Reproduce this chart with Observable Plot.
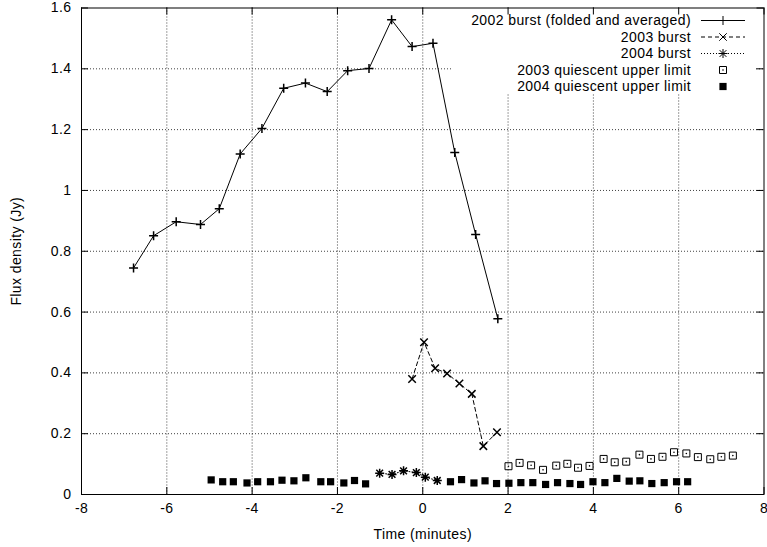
<!DOCTYPE html>
<html>
<head>
<meta charset="utf-8">
<script src="https://cdn.jsdelivr.net/npm/d3@7"></script>
<script src="https://cdn.jsdelivr.net/npm/@observablehq/plot@0.6"></script>
<style>
  html, body { margin: 0; padding: 0; background: white; }
  svg { display: block; }
  svg text { letter-spacing: 0.4px; }
</style>
</head>
<body>
<div id="chart"></div>
<script>
// ---- Data ----
const xTicks = [-8, -6, -4, -2, 0, 2, 4, 6, 8];
const yTicks = [0, 0.2, 0.4, 0.6, 0.8, 1, 1.2, 1.4, 1.6];

const seriesNames = [
  "2002 burst (folded and averaged)",
  "2003 burst",
  "2004 burst",
  "2003 quiescent upper limit",
  "2004 quiescent upper limit"
];

const t2002 = [-6.78, -6.31, -5.78, -5.21, -4.77, -4.28, -3.77, -3.26, -2.75, -2.24, -1.76, -1.26, -0.73, -0.25, 0.24, 0.75, 1.24, 1.76];
const f2002 = [0.745, 0.851, 0.897, 0.888, 0.940, 1.120, 1.204, 1.336, 1.353, 1.325, 1.394, 1.401, 1.561, 1.473, 1.484, 1.125, 0.855, 0.578];

const t2003 = [-0.25, 0.03, 0.29, 0.57, 0.86, 1.15, 1.42, 1.74];
const f2003 = [0.380, 0.501, 0.415, 0.398, 0.365, 0.331, 0.159, 0.205];

const t2004 = [-1.01, -0.72, -0.45, -0.15, 0.06, 0.34];
const f2004 = [0.070, 0.066, 0.078, 0.072, 0.057, 0.046];

const tQ2003 = [2.01, 2.27, 2.54, 2.82, 3.13, 3.39, 3.64, 3.91, 4.24, 4.50, 4.77, 5.08, 5.35, 5.62, 5.89, 6.18, 6.45, 6.74, 7.00, 7.27];
const fQ2003 = [0.093, 0.104, 0.096, 0.081, 0.095, 0.101, 0.088, 0.094, 0.117, 0.106, 0.108, 0.131, 0.117, 0.124, 0.139, 0.135, 0.123, 0.116, 0.124, 0.128];

const tQ2004 = [-4.96, -4.69, -4.44, -4.12, -3.87, -3.57, -3.30, -3.02, -2.74, -2.39, -2.16, -1.85, -1.60, -1.34, 0.65, 0.91, 1.20, 1.46, 1.73, 2.02, 2.30, 2.58, 2.88, 3.16, 3.45, 3.70, 3.99, 4.27, 4.55, 4.84, 5.09, 5.37, 5.66, 5.95, 6.21];
const fQ2004 = [0.048, 0.042, 0.042, 0.038, 0.042, 0.042, 0.047, 0.045, 0.055, 0.042, 0.042, 0.038, 0.046, 0.035, 0.042, 0.049, 0.038, 0.045, 0.036, 0.037, 0.039, 0.039, 0.033, 0.039, 0.036, 0.033, 0.042, 0.039, 0.053, 0.044, 0.045, 0.036, 0.039, 0.042, 0.042];

// ---- Build tables ----
const rows = (ts, fs) => ts.map((t, i) => ({t, f: fs[i]}));
const d2002 = rows(t2002, f2002);
const d2003 = rows(t2003, f2003);
const d2004 = rows(t2004, f2004);
const dQ2003 = rows(tQ2003, fQ2003);
const dQ2004 = rows(tQ2004, fQ2004);

// ---- Custom gnuplot-like point symbols ----
const rad = size => Math.sqrt(size / Math.PI);
const plus = {draw(ctx, size) { const r = rad(size); ctx.moveTo(-r, 0); ctx.lineTo(r, 0); ctx.moveTo(0, -r); ctx.lineTo(0, r); }};
const cross = {draw(ctx, size) { const r = rad(size) * 0.75; ctx.moveTo(-r, -r); ctx.lineTo(r, r); ctx.moveTo(-r, r); ctx.lineTo(r, -r); }};
const star = {draw(ctx, size) { plus.draw(ctx, size); cross.draw(ctx, size); }};
const box = {draw(ctx, size) { const r = rad(size); ctx.rect(-r, -r, 2 * r, 2 * r); }};

const W = 767, H = 547;
const mL = 81, mR = 3.5, mT = 7.5, mB = 53;
const font = "'Liberation Sans', Arial, Helvetica, sans-serif";
const fs = 14;
const gridStyle = {stroke: "#000", strokeOpacity: 0.75, strokeDasharray: "1,2"};

const xPerPx = 16 / (W - mL - mR);
const yPerPx = 1.6 / (H - mT - mB);
const tickLen = 7;

const chart = Plot.plot({
  width: W, height: H,
  marginLeft: mL, marginRight: mR, marginTop: mT, marginBottom: mB,
  style: {fontFamily: font, fontSize: fs + "px", background: "white", color: "black"},
  x: {domain: [-8, 8]},
  y: {domain: [0, 1.6]},
  marks: [
    Plot.gridX(xTicks.slice(1, -1), gridStyle),
    Plot.gridY(yTicks.slice(1, -1), gridStyle),
    Plot.frame({stroke: "black", strokeWidth: 1}),
    // inward ticks on all four sides
    Plot.ruleX(xTicks, {y1: 0, y2: tickLen * yPerPx, stroke: "black"}),
    Plot.ruleX(xTicks, {y1: 1.6 - tickLen * yPerPx, y2: 1.6, stroke: "black"}),
    Plot.ruleY(yTicks, {x1: -8, x2: -8 + tickLen * xPerPx, stroke: "black"}),
    Plot.ruleY(yTicks, {x1: 8 - tickLen * xPerPx, x2: 8, stroke: "black"}),
    Plot.axisX(xTicks, {tickSize: 0, tickPadding: 9, tickFormat: d => String(d), fontSize: fs,
      label: "Time (minutes)", labelAnchor: "center", labelArrow: "none", labelOffset: 44}),
    Plot.axisY(yTicks, {tickSize: 0, tickPadding: 10, tickFormat: d => String(d), fontSize: fs,
      label: "Flux density (Jy)", labelAnchor: "center", labelArrow: "none", labelOffset: 70}),
    // 2002
    Plot.line(d2002, {x: "t", y: "f", stroke: "black", strokeWidth: 1}),
    Plot.dot(d2002, {x: "t", y: "f", symbol: plus, r: 4.5, stroke: "black", fill: "none"}),
    // 2003 burst
    Plot.line(d2003, {x: "t", y: "f", stroke: "black", strokeWidth: 1, strokeDasharray: "4,3"}),
    Plot.dot(d2003, {x: "t", y: "f", symbol: cross, r: 5, stroke: "black", fill: "none"}),
    // 2004 burst
    Plot.line(d2004, {x: "t", y: "f", stroke: "black", strokeWidth: 1, strokeDasharray: "1,2"}),
    Plot.dot(d2004, {x: "t", y: "f", symbol: star, r: 4.5, stroke: "black", fill: "none"}),
    // 2003 quiescent
    Plot.dot(dQ2003, {x: "t", y: "f", symbol: box, r: 3.5, stroke: "black", fill: "none", strokeWidth: 1}),
    Plot.dot(dQ2003, {x: "t", y: "f", r: 0.8, fill: "black", stroke: "none"}),
    // 2004 quiescent
    Plot.dot(dQ2004, {x: "t", y: "f", symbol: box, r: 3.6, fill: "black", stroke: "none"})
  ]
});

document.getElementById("chart").appendChild(chart);

// ---- Legend (gnuplot key, top right, clears the grid behind it) ----
const svg = d3.select(chart);
svg.insert("rect", "[aria-label=frame]")
  .attr("x", 453).attr("y", mT + 0.5).attr("width", 302).attr("height", 86)
  .attr("fill", "white");

const key = svg.append("g").attr("font-family", font).attr("font-size", fs);
const rowY = [20.5, 37, 53.5, 70, 86.5];
const textX = 691, lx1 = 701, lx2 = 745, mx = 723;
const dashes = [null, "4,3", "1,2", undefined, undefined];
const syms = [plus, cross, star, box, box];
const rs = [4.5, 5, 4.5, 3.5, 3.6];
seriesNames.forEach((name, i) => {
  const y = rowY[i];
  key.append("text").attr("x", textX).attr("y", y).attr("dy", "0.35em")
    .attr("text-anchor", "end").attr("fill", "black").text(name);
  if (i < 3) {
    const ln = key.append("line").attr("x1", lx1).attr("x2", lx2).attr("y1", y).attr("y2", y)
      .attr("stroke", "black").attr("stroke-width", 1);
    if (dashes[i]) ln.attr("stroke-dasharray", dashes[i]);
  }
  const p = key.append("path")
    .attr("transform", `translate(${mx},${y})`)
    .attr("d", d3.symbol().type(syms[i]).size(Math.PI * rs[i] * rs[i])());
  if (i === 4) p.attr("fill", "black").attr("stroke", "none");
  else p.attr("fill", "none").attr("stroke", "black");
  if (i === 3) key.append("circle").attr("cx", mx).attr("cy", y).attr("r", 0.8).attr("fill", "black");
});
</script>
</body>
</html>
